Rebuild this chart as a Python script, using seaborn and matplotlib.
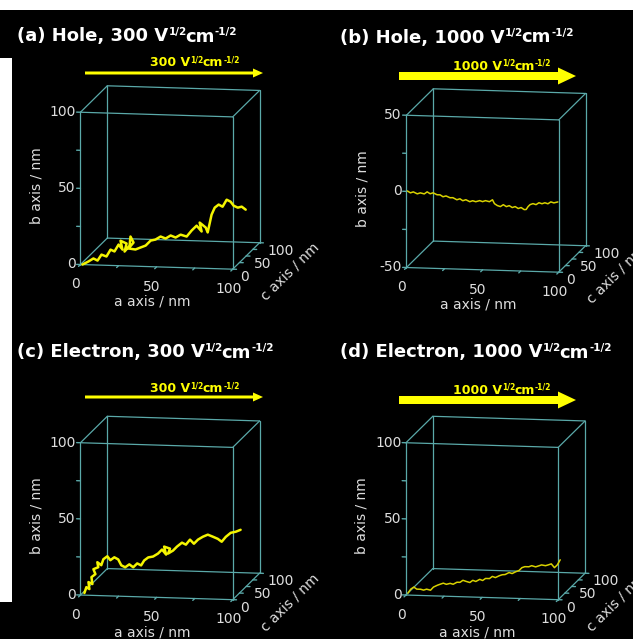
import matplotlib
matplotlib.use("Agg")
import matplotlib.pyplot as plt
import seaborn as sns
from matplotlib.patches import Rectangle, FancyArrow
from matplotlib.text import Annotation

# ---- data (nm): a axis, b axis, c axis for each trajectory ----
hole300_a = [1.3, 4.9, 8.0, 10.7, 13.1, 16.2, 18.7, 21.3, 23.8, 26.2, 24.9, 28.7, 27.4, 30.5, 31.1,
             33.1, 29.8, 34.2, 37.5, 40.7, 43.8, 46.8, 50.0, 53.3, 56.4, 59.5, 62.6, 66.4, 69.5, 72.6,
             75.7, 74.4, 78.2, 79.5, 80.6, 81.7, 83.6, 86.0, 88.4, 90.9, 92.6, 93.9, 95.9, 97.8, 99.7]
hole300_b = [0.0, 1.8, 3.7, 2.4, 6.2, 4.9, 9.3, 8.2, 12.6, 9.2, 15.0, 13.1, 7.8, 11.6, 17.6,
             13.7, 9.7, 9.0, 10.4, 11.6, 14.8, 15.4, 17.3, 16.1, 18.0, 16.6, 18.4, 17.1, 21.0, 24.1,
             20.2, 26.0, 22.7, 19.5, 25.2, 30.9, 35.4, 37.3, 35.8, 40.3, 38.2, 34.9, 33.0, 33.0, 30.4]
hole300_c = [0, 2, 3, 3, 4, 5, 6, 6, 7, 8, 8, 9, 9, 10, 10,
             10, 10, 11, 11, 12, 13, 14, 15, 15, 16, 17, 18, 19, 20, 21,
             22, 22, 23, 23, 24, 25, 26, 27, 28, 29, 34, 38, 42, 46, 50]

hole1000_a = [0.6, 2.6, 4.5, 7.1, 9.1, 11.7, 13.6, 15.6, 17.5, 20.1, 22.1, 24.0, 26.0, 28.6, 30.5,
              33.1, 35.1, 37.0, 39.0, 41.6, 43.5, 45.5, 48.1, 50.0, 51.9, 54.5, 56.5, 57.8, 59.7, 61.7,
              63.6, 65.6, 67.5, 69.5, 71.4, 73.4, 75.3, 77.3, 78.6, 79.9, 81.2, 83.1, 85.1, 87.0, 89.0,
              90.9, 92.9, 94.8, 96.8, 99.4]
hole1000_b = [0.3, -0.9, -0.2, -1.4, -0.7, -1.3, 0.1, -1.1, -0.4, -1.6, -1.6, -2.8, -2.2, -3.3, -3.2,
              -4.5, -3.8, -5.0, -4.3, -5.5, -4.8, -5.4, -4.6, -5.2, -4.5, -5.1, -3.8, -6.3, -7.5, -8.1,
              -6.8, -8.0, -7.3, -8.5, -7.8, -9.0, -8.3, -9.6, -9.5, -7.5, -6.2, -5.5, -6.1, -4.8, -5.4,
              -4.7, -5.3, -4.0, -4.6, -3.9]
hole1000_c = [0] * 50

elec300_a = [2.6, 3.7, 5.7, 4.9, 7.5, 6.7, 9.3, 7.8, 11.0, 10.2, 12.8, 14.0, 16.6, 18.4, 21.0, 23.4,
             25.4, 27.8, 30.5, 32.9, 35.5, 37.9, 39.9, 42.4, 45.4, 48.5, 51.1, 53.6, 52.3, 56.0, 54.7,
             57.8, 60.2, 63.5, 65.9, 68.4, 70.8, 73.3, 76.3, 79.4, 82.5, 85.6, 88.0, 90.5, 93.6, 96.7, 99.7]
elec300_b = [1.4, 5.1, 3.9, 8.3, 7.1, 11.4, 13.5, 16.5, 17.9, 21.0, 19.1, 22.9, 24.9, 22.2, 24.2, 22.7,
             18.9, 17.5, 19.5, 17.5, 20.1, 18.7, 22.0, 23.9, 24.4, 26.3, 29.0, 25.6, 30.8, 29.4, 26.1,
             28.0, 30.5, 33.2, 31.8, 35.0, 32.2, 34.8, 36.6, 37.9, 36.5, 35.0, 33.0, 36.1, 38.7, 39.3, 40.5]
elec300_c = [0, 1, 1, 2, 2, 3, 3, 4, 4, 5, 5, 6, 6, 7, 7, 8,
             8, 9, 9, 10, 10, 11, 11, 12, 13, 14, 14, 15, 15, 16, 16,
             17, 18, 18, 19, 20, 21, 22, 23, 24, 25, 26, 27, 28, 29, 30, 31]

elec1000_a = [1.3, 3.2, 5.0, 6.9, 9.5, 11.4, 13.2, 15.8, 17.7, 20.3, 22.1, 24.0, 26.0, 28.5, 30.3,
              32.8, 34.8, 36.7, 38.5, 41.1, 43.0, 45.0, 47.4, 49.3, 51.2, 53.8, 55.5, 57.5, 60.1, 62.0,
              63.7, 66.3, 68.3, 70.8, 72.6, 74.6, 76.5, 79.1, 80.8, 83.4, 85.4, 87.3, 89.7, 91.6, 93.5,
              95.4, 97.3, 99.0]
elec1000_b = [1.3, 4.0, 5.2, 3.9, 3.9, 3.4, 3.9, 3.3, 5.4, 6.7, 7.3, 8.0, 7.3, 8.0, 7.3,
              8.7, 8.7, 10.1, 9.3, 8.6, 10.1, 9.4, 10.7, 10.0, 11.4, 11.4, 12.7, 12.0, 13.3, 14.0,
              14.0, 15.4, 14.8, 16.1, 16.7, 18.7, 19.4, 19.4, 20.0, 19.3, 20.0, 20.7, 20.1, 20.7, 21.4,
              18.8, 20.7, 23.9]
elec1000_c = [0, 0, 1, 1, 1, 1, 2, 2, 2, 2, 3, 3, 3, 3, 4,
              4, 4, 4, 5, 5, 5, 5, 6, 6, 6, 6, 7, 7, 7, 7,
              8, 8, 8, 8, 9, 9, 9, 9, 10, 10, 10, 10, 11, 11, 11,
              12, 12, 13]

panel_titles = ["(a) Hole, 300 V", "(b) Hole, 1000 V", "(c) Electron, 300 V", "(d) Electron, 1000 V"]
field_values = ["300", "1000", "300", "1000"]
b_limits = [(0, 100), (-50, 50), (0, 100), (0, 100)]
b_ticklabels = [[0, 50, 100], [-50, 0, 50], [0, 50, 100], [0, 50, 100]]
ac_ticklabels = [0, 50, 100]
minor_ticks = [0, 25, 50, 75, 100]

sns.set_style("white")
plt.rcParams["font.family"] = ["DejaVu Sans"]

W, H = 633, 639
fig = plt.figure(figsize=(W / 100, H / 100), dpi=100, facecolor="white")

# black canvas, white margins at top and left
fig.add_artist(Rectangle((12 / W, 0), 1, (H - 10) / H, transform=fig.transFigure,
                         facecolor="black", edgecolor="none", zorder=-5))
fig.add_artist(Rectangle((0, 0), 13 / W, 37 / H, transform=fig.transFigure,
                         facecolor="black", edgecolor="none", zorder=-5))
fig.add_artist(Rectangle((0, (H - 58) / H), 13 / W, 48 / H, transform=fig.transFigure,
                         facecolor="black", edgecolor="none", zorder=-5))

BOX = "#5aa9a9"
TXT = "#dedede"
YEL = "#ffff00"


def chain_text(x, y, pieces, color):
    """Write text pieces one after the other; x, y = left baseline in pixels from top-left."""
    yf = 1 - y / H
    s, size, rise, gap = pieces[0]
    prev = fig.text(x / W, yf, s, fontsize=size, ha="left", va="baseline",
                    color=color, fontweight="bold")
    for s, size, rise, gap in pieces[1:]:
        ann = Annotation(s, xy=(1, yf), xycoords=(prev, "figure fraction"),
                         xytext=(gap, rise), textcoords="offset points",
                         ha="left", va="baseline", fontsize=size, color=color,
                         fontweight="bold")
        fig.add_artist(ann)
        prev = ann


trajs = [(hole300_a, hole300_b, hole300_c), (hole1000_a, hole1000_b, hole1000_c),
         (elec300_a, elec300_b, elec300_c), (elec1000_a, elec1000_b, elec1000_c)]

# panel layout in pixels: axes left/top, title baseline, field label baseline, arrow
layout = [
    dict(ax=(36.5, 51), title=(17, 41.5), label=(150, 66.5), arrow=(85, 263, 73)),
    dict(ax=(362.5, 54), title=(340, 42.5), label=(453, 70), arrow=(399, 576, 76)),
    dict(ax=(36.5, 381.5), title=(17, 357.5), label=(150, 392.5), arrow=(85, 263, 397)),
    dict(ax=(362, 381.5), title=(340, 357.5), label=(453, 394), arrow=(399, 576, 400)),
]
SIDE = 260

for i in range(4):
    lay = layout[i]
    lo, hi = b_limits[i]
    thick = field_values[i] == "1000"
    axl, axt = lay["ax"]
    ax = fig.add_axes([axl / W, (H - axt - SIDE) / H, SIDE / W, SIDE / H],
                      projection="3d", computed_zorder=False)
    ax.set_proj_type("ortho")
    ax.view_init(elev=10, azim=-80)
    ax.set_box_aspect((1, 1, 1))
    ax.set_xlim(0, 100)
    ax.set_ylim(0, 100)
    ax.set_zlim(lo, hi)
    # the frame, ticks and labels are drawn by hand below
    ax.set_xticks([])
    ax.set_yticks([])
    ax.set_zticks([])
    ax.set_axis_off()
    ax.patch.set_alpha(0)

    # box frame (x = a axis, y = c axis, z = b axis)
    for y in (0, 100):
        for z in (lo, hi):
            ax.plot([0, 100], [y, y], [z, z], color=BOX, lw=0.9)
    for x in (0, 100):
        for z in (lo, hi):
            ax.plot([x, x], [0, 100], [z, z], color=BOX, lw=0.9)
    for x in (0, 100):
        for y in (0, 100):
            ax.plot([x, x], [y, y], [lo, hi], color=BOX, lw=0.9)

    # ticks
    for t in minor_ticks:
        bt = lo + t * (hi - lo) / 100
        ax.plot([0, -2.5], [0, 0], [bt, bt], color=BOX, lw=1.0)
        ax.plot([t, t], [0, -7], [lo, lo], color=BOX, lw=1.0)
        ax.plot([100, 102.5], [t, t], [lo, lo], color=BOX, lw=1.0)

    for v in b_ticklabels[i]:
        ax.text(-3, 0, v, str(v), ha="right", va="center", color=TXT, fontsize=10)
    for v in ac_ticklabels:
        ax.text(v - 3, 0, lo - 13, str(v), ha="center", va="center", color=TXT, fontsize=10)
        ax.text(105, v, lo - 5, str(v), ha="left", va="center", color=TXT, fontsize=10)
    ax.text(47, 0, lo - 23, "a axis / nm", ha="center", va="center", color=TXT, fontsize=10)
    ax.text(-29, 0, lo + 51, "b axis / nm", zdir="z", ha="center", va="center",
            color=TXT, fontsize=10)
    ax.text(129, 50, lo - 9.5, "c axis / nm", zdir="y", ha="center", va="center",
            color=TXT, fontsize=10)

    # trajectory
    ta, tb, tc = trajs[i]
    if thick:
        ax.plot(ta, tc, tb, color="#d9d200", lw=1.1)
    else:
        ax.plot(ta, tc, tb, color="#f4f400", lw=1.8)

    # title
    tx, ty = lay["title"]
    chain_text(tx, ty, [(panel_titles[i], 13, 0, 0), ("1/2", 7.5, 4.5, 0.2),
                        ("cm", 13, 0, -1.2), ("-1/2", 7.5, 4.5, 0.2)], "white")

    # field arrow and its label
    x0, x1, ay = lay["arrow"]
    if thick:
        sw, hw, hl = 8, 17, 18
    else:
        sw, hw, hl = 3, 9, 10
    fig.add_artist(FancyArrow(x0 / 100, (H - ay) / 100, (x1 - x0) / 100, 0,
                              width=sw / 100, head_width=hw / 100, head_length=hl / 100,
                              length_includes_head=True, transform=fig.dpi_scale_trans,
                              facecolor=YEL, edgecolor="none"))
    lx, ly = lay["label"]
    chain_text(lx, ly, [(field_values[i] + " V", 9, 0, 0), ("1/2", 5.5, 3, 0.2),
                        ("cm", 9, 0, -0.8), ("-1/2", 5.5, 3, 0.2)], YEL)

fig.savefig("out.png", dpi=100, facecolor="white")
